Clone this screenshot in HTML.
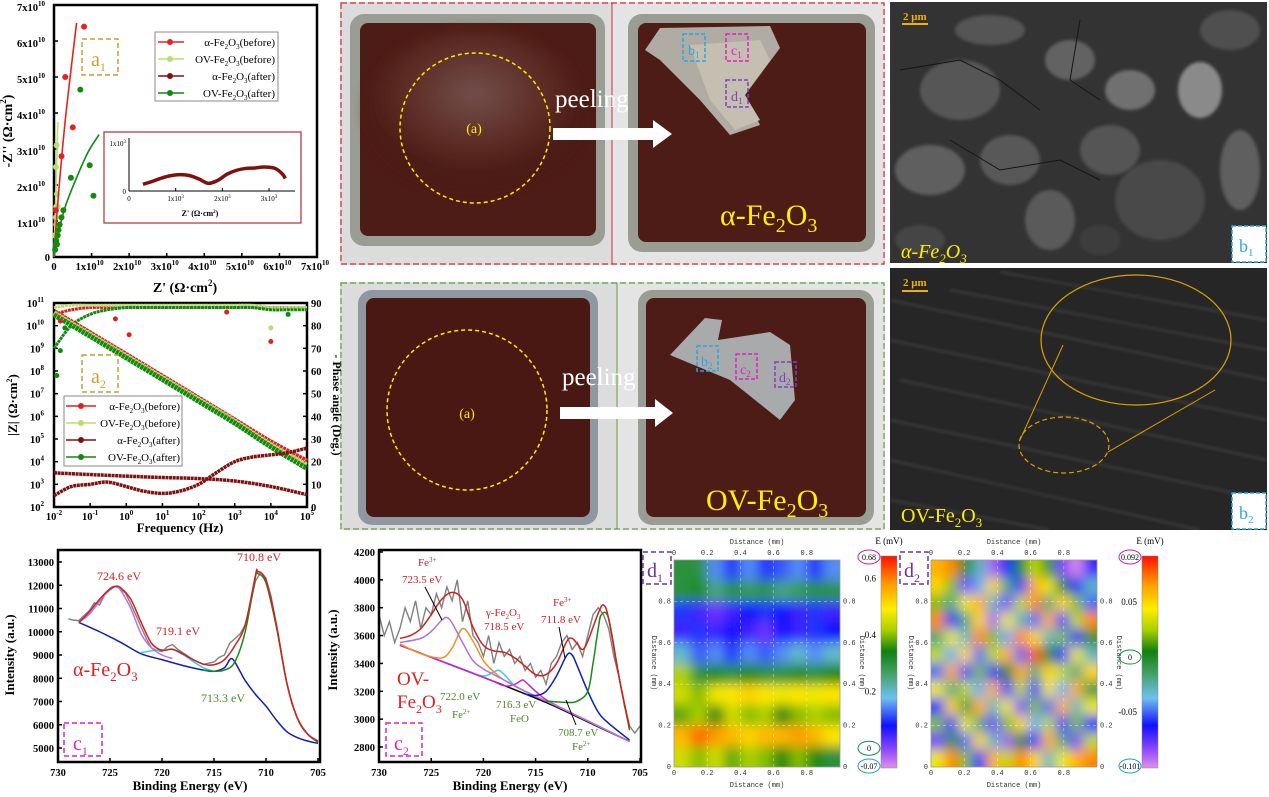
<!DOCTYPE html>
<html><head><meta charset="utf-8"><style>
html,body{margin:0;padding:0;background:#fff}
svg{display:block;font-family:"Liberation Serif",serif}
.tk{font-size:10.5px;font-weight:bold;fill:#000}
.sm{font-size:7px;fill:#333;font-family:"Liberation Mono",monospace}
</style></head><body>
<svg id="fig" width="1269" height="797" viewBox="0 0 1269 797" xmlns="http://www.w3.org/2000/svg">
<defs>
<filter id="blur5" x="-10%" y="-10%" width="120%" height="120%"><feGaussianBlur stdDeviation="6"/></filter>
<filter id="blur2"><feGaussianBlur stdDeviation="1.5"/></filter>
<filter id="blur6"><feGaussianBlur stdDeviation="6"/></filter>
<radialGradient id="gloss" cx="0.5" cy="0.4" r="0.5"><stop offset="0" stop-color="#8a7270"/><stop offset="0.6" stop-color="#6a3a32"/><stop offset="1" stop-color="#4a1a14"/></radialGradient>
<clipPath id="cpD1"><rect x="674" y="560" width="166" height="207"/></clipPath>
<clipPath id="cpD2"><rect x="931" y="560" width="166" height="207"/></clipPath>
<clipPath id="cpS1"><rect x="890" y="2" width="377" height="261"/></clipPath>
<clipPath id="cpS2"><rect x="890" y="268" width="377" height="262"/></clipPath>
<linearGradient id="cbar" x1="0" y1="1" x2="0" y2="0">
<stop offset="0" stop-color="#e090e8"/><stop offset="0.1" stop-color="#8040ff"/><stop offset="0.2" stop-color="#1010ff"/><stop offset="0.33" stop-color="#70c0f0"/><stop offset="0.45" stop-color="#40a060"/><stop offset="0.55" stop-color="#108010"/><stop offset="0.65" stop-color="#a8d000"/><stop offset="0.75" stop-color="#ffee00"/><stop offset="0.87" stop-color="#ff9900"/><stop offset="1" stop-color="#ff1000"/></linearGradient>
</defs>

<!-- ============ Photos ============ -->
<g>
<rect x="340" y="2" width="545" height="263" fill="#dcdcdc"/>
<rect x="612" y="2" width="273" height="263" fill="#e4e4e4"/>
<rect x="350" y="14" width="255" height="232" rx="14" fill="#9a9d94"/>
<rect x="360" y="23" width="236" height="213" rx="8" fill="#4e1c16"/>
<ellipse cx="475" cy="110" rx="110" ry="80" fill="url(#gloss)" opacity="0.6" filter="url(#blur6)"/>
<rect x="628" y="14" width="247" height="238" rx="14" fill="#9a9d94"/>
<rect x="638" y="23" width="228" height="219" rx="8" fill="#4e1c16"/>
<path d="M645 50 L660 28 L770 26 L780 48 L745 95 L760 125 L730 135 L700 100 L660 60 Z" fill="#b0aca4"/>
<path d="M690 45 L760 40 L770 60 L745 95 L760 120 L735 130 L710 100Z" fill="#c4bfb0"/>
<circle cx="475" cy="128" r="75" fill="none" stroke="#ffee00" stroke-width="1.5" stroke-dasharray="4,3"/>
<text x="474" y="133" font-size="14" fill="#ffee00" text-anchor="middle">(a)</text>
<rect x="683" y="34" width="22" height="27" fill="none" stroke="#29a8e0" stroke-width="1.5" stroke-dasharray="4,2"/>
<text x="688" y="55" font-size="14" fill="#29a8e0">b<tspan font-size="9" dy="3">1</tspan></text>
<rect x="726" y="34" width="22" height="27" fill="none" stroke="#e020c0" stroke-width="1.5" stroke-dasharray="4,2"/>
<text x="731" y="55" font-size="14" fill="#e020c0">c<tspan font-size="9" dy="3">1</tspan></text>
<rect x="726" y="80" width="22" height="27" fill="none" stroke="#8040c0" stroke-width="1.5" stroke-dasharray="4,2"/>
<text x="731" y="101" font-size="14" fill="#8040c0">d<tspan font-size="9" dy="3">1</tspan></text>
<text x="720" y="225" font-size="30" fill="#ffee00">α-Fe<tspan font-size="20" dy="7">2</tspan><tspan dy="-7">O</tspan><tspan font-size="20" dy="7">3</tspan></text>
<rect x="341" y="3" width="543" height="261" fill="none" stroke="#d03030" stroke-width="1.2" stroke-dasharray="6,3"/>
<line x1="612" y1="3" x2="612" y2="264" stroke="#d03030" stroke-width="1"/>
<text x="555" y="107" font-size="25" fill="#fff">peeling</text>
<path d="M553 128 L653 128 L653 120 L672 134 L653 148 L653 140 L553 140Z" fill="#fff"/>
</g>
<g>
<rect x="340" y="282" width="545" height="248" fill="#dcdcdc"/>
<rect x="617" y="282" width="268" height="248" fill="#e4e4e4"/>
<rect x="358" y="290" width="240" height="235" rx="14" fill="#8f98a0"/>
<rect x="366" y="298" width="224" height="219" rx="8" fill="#4a1812"/>
<circle cx="467" cy="410" r="80" fill="none" stroke="#ffee00" stroke-width="1.5" stroke-dasharray="4,3"/>
<text x="467" y="418" font-size="14" fill="#ffee00" text-anchor="middle">(a)</text>
<rect x="638" y="290" width="236" height="235" rx="14" fill="#9a9d94"/>
<rect x="646" y="298" width="220" height="219" rx="8" fill="#4e1c16"/>
<path d="M670 355 L705 318 L722 320 L718 340 L770 332 L790 345 L795 400 L780 420 L730 380Z" fill="#a8aaac"/>
<rect x="697" y="346" width="21" height="25" fill="none" stroke="#29a8e0" stroke-width="1.5" stroke-dasharray="4,2"/>
<text x="701" y="366" font-size="14" fill="#29a8e0">b<tspan font-size="9" dy="3">2</tspan></text>
<rect x="736" y="354" width="21" height="25" fill="none" stroke="#e020c0" stroke-width="1.5" stroke-dasharray="4,2"/>
<text x="740" y="374" font-size="14" fill="#e020c0">c<tspan font-size="9" dy="3">2</tspan></text>
<rect x="775" y="362" width="21" height="25" fill="none" stroke="#8040c0" stroke-width="1.5" stroke-dasharray="4,2"/>
<text x="779" y="382" font-size="14" fill="#8040c0">d<tspan font-size="9" dy="3">2</tspan></text>
<text x="706" y="510" font-size="30" fill="#ffee00">OV-Fe<tspan font-size="20" dy="7">2</tspan><tspan dy="-7">O</tspan><tspan font-size="20" dy="7">3</tspan></text>
<rect x="341" y="283" width="543" height="246" fill="none" stroke="#60a040" stroke-width="1.2" stroke-dasharray="6,3"/>
<line x1="617" y1="283" x2="617" y2="529" stroke="#60a040" stroke-width="1"/>
<text x="562" y="385" font-size="25" fill="#fff">peeling</text>
<path d="M560 407 L655 407 L655 399 L673 413 L655 427 L655 419 L560 419Z" fill="#fff"/>
</g>

<!-- ============ SEM ============ -->
<g clip-path="url(#cpS1)">
<rect x="890" y="2" width="377" height="261" fill="#333"/>
<g filter="url(#blur2)">
<ellipse cx="960" cy="90" rx="40" ry="30" fill="#575757"/><ellipse cx="930" cy="170" rx="35" ry="25" fill="#5e5e5e"/>
<ellipse cx="1010" cy="160" rx="30" ry="25" fill="#585858"/><ellipse cx="1070" cy="60" rx="25" ry="20" fill="#626262"/>
<ellipse cx="1110" cy="150" rx="30" ry="25" fill="#555"/><ellipse cx="1200" cy="90" rx="22" ry="28" fill="#8a8a8a"/>
<ellipse cx="1160" cy="200" rx="45" ry="40" fill="#4a4a4a"/><ellipse cx="1240" cy="170" rx="20" ry="40" fill="#5e5e5e"/>
<ellipse cx="1050" cy="220" rx="25" ry="30" fill="#5a5a5a"/><ellipse cx="1130" cy="90" rx="25" ry="20" fill="#707070"/>
<ellipse cx="990" cy="30" rx="35" ry="15" fill="#555"/><ellipse cx="1230" cy="30" rx="30" ry="20" fill="#505050"/>
<ellipse cx="1100" cy="240" rx="20" ry="15" fill="#3e3e3e"/><ellipse cx="920" cy="240" rx="25" ry="15" fill="#444"/>
</g>
<g stroke="#151515" stroke-width="1" fill="none"><path d="M900 70 L960 60 L1000 80 L1040 110"/><path d="M950 140 L1000 170 L1060 160 L1100 180"/><path d="M1080 20 L1070 80 L1100 100"/></g>
<text x="903" y="20" font-size="11" font-weight="bold" fill="#f0b000">2 μm</text>
<rect x="902" y="23" width="26" height="2" fill="#f0b000"/>
<text x="901" y="258" font-size="20" fill="#ffee00" font-style="italic">α-Fe<tspan font-size="13" dy="5">2</tspan><tspan dy="-5">O</tspan><tspan font-size="13" dy="5">3</tspan></text>
<rect x="1232" y="226" width="34" height="36" fill="#fff" stroke="#29a8e0" stroke-width="1.5" stroke-dasharray="4,2"/>
<text x="1239" y="252" font-size="18" fill="#29a8e0">b<tspan font-size="11" dy="4">1</tspan></text>
</g>
<g clip-path="url(#cpS2)">
<rect x="890" y="268" width="377" height="262" fill="#262626"/>
<g stroke="#555" stroke-width="1.2" fill="none" filter="url(#blur2)" opacity="0.9">
<path d="M890 300 L1267 380"/><path d="M890 340 L1267 420"/><path d="M900 380 L1267 460"/><path d="M890 420 L1267 500"/>
<path d="M890 460 L1200 530"/><path d="M950 290 L1267 350"/><path d="M1000 272 L1267 320"/><path d="M890 500 L1050 530"/>
</g>
<ellipse cx="1136" cy="340" rx="95" ry="65" fill="none" stroke="#e0a000" stroke-width="1.2"/>
<ellipse cx="1064" cy="445" rx="45" ry="28" fill="none" stroke="#e0a000" stroke-width="1.2" stroke-dasharray="5,3"/>
<line x1="1020" y1="440" x2="1063" y2="345" stroke="#e0a000" stroke-width="1"/>
<line x1="1108" y1="452" x2="1215" y2="390" stroke="#e0a000" stroke-width="1"/>
<text x="903" y="286" font-size="11" font-weight="bold" fill="#f0b000">2 μm</text>
<rect x="902" y="290" width="26" height="2" fill="#f0b000"/>
<text x="901" y="522" font-size="20" fill="#ffee00">OV-Fe<tspan font-size="13" dy="5">2</tspan><tspan dy="-5">O</tspan><tspan font-size="13" dy="5">3</tspan></text>
<rect x="1232" y="493" width="34" height="36" fill="#fff" stroke="#29a8e0" stroke-width="1.5" stroke-dasharray="4,2"/>
<text x="1239" y="519" font-size="18" fill="#29a8e0">b<tspan font-size="11" dy="4">2</tspan></text>
</g>

<!-- chart layers -->
<g id="a1"></g>
<g id="a2"></g>
<g id="c1"></g>
<g id="c2"></g>
<g id="d1"></g>
<g id="d2"></g>
</svg>

<script>
// ---------- a1 Nyquist data (units 1e10) ----------
const a1AlphaBeforeX = [0.05,0.2,0.5,0.3,0.8];
const a1AlphaBeforeY = [1.3,2.8,3.6,5.0,6.4];
const a1AlphaBeforeFitX = [0,0.1,0.3,0.6];
const a1AlphaBeforeFitY = [0,1.5,3.8,6.5];
const a1OvBeforeX = [0.02,0.05,0.06,0.08,0.1,0.05,0.07,0.06];
const a1OvBeforeY = [0.6,1.1,1.4,1.75,1.4,2.5,3.1,0.9];
const a1OvBeforeFitX = [0,0.05,0.1];
const a1OvBeforeFitY = [0,1.8,3.75];
const a1OvAfterX = [0.03,0.06,0.1,0.12,0.15,0.2,0.25,0.45,0.7,0.95,1.05,0.08];
const a1OvAfterY = [0.2,0.45,0.6,0.75,0.9,1.1,1.3,2.2,4.65,2.55,1.7,0.35];
const a1OvAfterFitX = [0,0.1,0.3,0.6,0.9,1.2];
const a1OvAfterFitY = [0,0.6,1.4,2.2,2.9,3.4];
const a1XTicks = [0,1,2,3,4,5,6,7];
const a1YTicks = [0,1,2,3,4,5,6,7];
const insetX = [0.3,0.5,0.7,0.9,1.1,1.3,1.5,1.7,1.9,2.1,2.3,2.5,2.7,2.9,3.1,3.2,3.3,3.35];
const insetY = [0.14,0.2,0.27,0.32,0.34,0.32,0.25,0.16,0.22,0.35,0.43,0.47,0.48,0.5,0.48,0.43,0.34,0.26];

// ---------- a2 Bode data ----------
const freqs = [0.01,0.1,1,10,100,1000,10000,100000];
const zAlphaBefore = [4e10,4.5e9,5e8,5.5e7,6e6,6.5e5,7e4,1e4];
const zOvBefore = [3.6e10,4e9,4.5e8,5e7,5.5e6,6e5,5.5e4,7e3];
const zOvAfter = [3e10,3.4e9,3.8e8,4.2e7,4.6e6,5e5,4.5e4,5e3];
const zAlphaAfter = [3200,2700,2300,2000,1800,1400,800,350];
const phFreqs = [0.01,0.03,0.1,0.3,1,3,10,30,100,300,1000,3000,10000,30000,100000];
const phAlphaAfter = [5,9,10,11,9,7,6,7,10,15,20,22,23,24,26];
const phAlphaBefore = [85,87,88,88,88,88,88,88,88,88,88,88,88,88,88];
const phOvBefore = [88,89,89,89,89,89,89,89,89,89,89,89,88,88,88];
const phOvAfter = [70,80,85,87,88,88,88,88,88,88,88,88,87,87,87];
const phOutlierF = [0.015,0.5,1.2,10000,10000,0.012,0.015,0.02,600,30000];
const phOutlierP = [82,83,76,73,79,58,69,79,86,85];
const phOutlierC = ['#e02020','#e02020','#e02020','#e02020','#b8e070','#108a10','#108a10','#108a10','#e02020','#108a10'];
const a2ZTicks = [2,3,4,5,6,7,8,9,10,11];
const a2PTicks = [0,10,20,30,40,50,60,70,80,90];
const a2FTicks = [-2,-1,0,1,2,3,4,5];

// ---------- c1 XPS ----------
const c1RawE = [729,728.5,728,727.5,727,726.5,726,725.5,725,724.5,724,723.5,723,722.5,722,721.5,721,720.5,720,719.5,719,718.5,718,717.5,717,716.5,716,715.5,715,714.5,714,713.5,713,712.5,712,711.5,711,710.5,710,709.5,709,708.5,708,707.5,707,706.5,706,705.5,705];
const c1Raw = [10550,10500,10480,10700,10900,11250,11150,11600,11800,11950,11850,11650,11200,10700,10200,9700,9300,9200,9150,9350,9450,9250,9100,8950,8800,8700,8600,8650,8700,8900,9000,9500,9700,9900,10300,11200,12200,12550,12300,11500,10300,9000,7800,6900,6300,5900,5600,5400,5250];
const c1EnvE = [728,727,726,725,724.5,724,723,722,721,720,719,718,717,716,715,714,713,712,711,710.8,710,709,708,707,706,705];
const c1Env = [10400,10850,11400,11850,11950,11900,11400,10400,9500,9200,9250,9050,8800,8600,8580,8800,9400,10300,12450,12600,12200,10300,7800,6300,5600,5300];
const c1GreenE = [716,715,714,713,712,711,710.8,710,709,708,707,706,705];
const c1Green = [8350,8300,8350,8700,10000,12400,12500,12100,10200,7800,6300,5600,5250];
const c1BlueE = [728,726,724,722,720,718,716,715,714,713.3,712.5,712,711,710,709,708,707,706,705];
const c1Blue = [10400,10000,9550,9050,8800,8550,8350,8300,8450,8850,8300,7900,7300,6800,6200,5700,5450,5300,5200];
const c1CyanE = [722,721,720,719,718,717,716,715];
const c1Cyan = [9100,9180,9220,9230,9020,8720,8450,8300];
const c1PurpleE = [728,727,726,725,724.5,724,723,722,721,720,719];
const c1Purple = [10400,10750,11300,11850,11950,11800,11000,9900,9300,9000,8850];
const c1XTicks = [730,725,720,715,710,705];
const c1YTicks = [5000,6000,7000,8000,9000,10000,11000,12000,13000];

// ---------- c2 XPS ----------
const c2RawE = [730,729.5,729,728.5,728,727.5,727,726.5,726,725.5,725,724.5,724,723.5,723,722.5,722,721.5,721,720.5,720,719.5,719,718.5,718,717.5,717,716.5,716,715.5,715,714.5,714,713.5,713,712.5,712,711.5,711,710.5,710,709.5,709,708.5,708,707.5,707,706.5,706,705.5,705];
const c2Raw = [3750,3600,3700,3550,3650,3800,3700,3850,3650,3800,3750,3900,3800,3950,3850,4000,3700,3850,3600,3550,3450,3600,3400,3550,3450,3500,3400,3450,3350,3400,3300,3350,3250,3400,3450,3550,3600,3500,3550,3450,3600,3750,3800,3750,3650,3450,3300,3100,2950,2900,2950];
const c2EnvE = [728,727,726,725,724,723,722,721,720,719,718,717,716,715,714,713,712,711.5,711,710.5,710,709,708.5,708,707,706];
const c2Env = [3580,3600,3650,3750,3860,3910,3860,3660,3530,3490,3480,3440,3380,3320,3320,3400,3560,3580,3540,3500,3560,3760,3820,3720,3300,2940];
const c2BgE = [728,720,714,710,706];
const c2Bg = [3530,3300,3120,2980,2840];
const c2PurE = [728,726,725,724,723.5,723,722,721,720,719,718,716,712,706];
const c2Pur = [3550,3580,3630,3710,3730,3690,3550,3420,3360,3320,3280,3200,3060,2840];
const c2OrE = [728,726,724,723,722,721,720,719,718,716,712,706];
const c2Or = [3540,3470,3440,3510,3650,3560,3420,3340,3280,3200,3060,2840];
const c2CyE = [728,722,720,719,718.5,718,717,716,714,712,706];
const c2Cy = [3530,3360,3310,3340,3350,3320,3240,3200,3130,3060,2840];
const c2MaE = [728,720,718,717,716.3,716,715,714,712,706];
const c2Ma = [3530,3300,3240,3250,3280,3270,3200,3140,3060,2840];
const c2BlE = [716,715,714,713,712,711.5,711,710,709,708,706];
const c2Bl = [3180,3170,3200,3310,3460,3460,3380,3200,3050,2970,2850];
const c2GrE = [714,712,711,710,709.5,709,708.7,708,707,706];
const c2Gr = [3130,3120,3130,3200,3400,3650,3750,3720,3300,2920];
const c2XTicks = [730,725,720,715,710,705];
const c2YTicks = [2800,3000,3200,3400,3600,3800,4000,4200];

// ---------- d maps ----------
const d1Grid = [
[0.30,0.30,0.15,0.10,0.15,0.10,0.12,0.15,0.10,0.15],
[0.30,0.32,0.25,0.30,0.28,0.30,0.25,0.28,0.30,0.30],
[0.10,0.05,0.02,0.05,0.08,0.10,0.08,0.05,0.10,0.05],
[0.05,0.10,0.05,0.08,0.05,0.02,0.08,0.05,0.10,0.08],
[0.20,0.12,0.15,0.10,0.15,0.12,0.15,0.20,0.15,0.20],
[0.42,0.30,0.32,0.30,0.35,0.30,0.30,0.32,0.30,0.35],
[0.45,0.40,0.48,0.50,0.52,0.50,0.48,0.50,0.48,0.50],
[0.38,0.42,0.35,0.45,0.40,0.42,0.35,0.40,0.42,0.40],
[0.55,0.62,0.58,0.55,0.52,0.55,0.55,0.58,0.55,0.50],
[0.45,0.40,0.45,0.38,0.42,0.40,0.35,0.40,0.35,0.30]];
const d1Range = [-0.07,0.68];
const d2Grid = [
[0.06,0.07,0.00,-0.03,-0.09,-0.06,0.00,0.03,0.01,-0.08,-0.10,-0.07],
[0.05,0.02,-0.08,-0.04,0.05,-0.02,-0.07,0.06,0.04,0.00,-0.06,-0.03],
[0.02,-0.02,0.04,0.06,-0.03,-0.08,0.03,0.07,-0.02,0.05,0.02,-0.05],
[0.07,-0.06,-0.02,0.05,-0.09,0.04,-0.03,-0.05,0.06,-0.07,0.03,0.07],
[-0.02,0.04,-0.03,0.07,0.02,-0.04,0.07,0.05,-0.03,0.02,-0.06,0.01],
[0.03,-0.04,0.05,-0.05,0.03,0.06,-0.05,0.08,0.00,-0.06,0.04,-0.03],
[-0.05,0.06,-0.07,0.02,-0.06,0.00,0.06,-0.02,0.05,0.03,-0.02,0.05],
[0.04,-0.02,0.03,-0.04,0.06,-0.07,0.03,-0.06,0.04,-0.04,0.06,-0.01],
[-0.06,0.05,-0.01,0.06,-0.03,0.04,-0.08,0.02,-0.05,0.06,-0.03,0.04],
[0.02,-0.07,0.04,-0.02,-0.08,0.02,0.05,-0.04,0.03,-0.07,0.02,-0.06],
[-0.08,0.01,-0.05,0.05,-0.03,-0.09,0.00,-0.07,0.06,-0.02,-0.08,0.03],
[0.04,0.07,0.02,-0.06,0.06,0.03,0.07,0.05,-0.03,0.04,0.06,0.07]];
const d2Range = [-0.101,0.092];
const dDistTicks = [0,0.2,0.4,0.6,0.8];
const d1BarTicks = [0.2,0.4,0.6];
const d2BarTicks = [-0.05,0,0.05];

const NS = 'http://www.w3.org/2000/svg';
function el(parent, tag, attrs, txt){
  const e = document.createElementNS(NS, tag);
  for (const k in attrs) e.setAttribute(k, attrs[k]);
  if (txt !== undefined) e.textContent = txt;
  parent.appendChild(e);
  return e;
}
function smoothPath(pts){
  if (pts.length < 3) return 'M' + pts.map(p=>p.join(',')).join('L');
  let d = 'M' + pts[0][0] + ',' + pts[0][1];
  for (let i=0;i<pts.length-1;i++){
    const p0 = pts[i-1]||pts[i], p1=pts[i], p2=pts[i+1], p3=pts[i+2]||p2;
    const c1x=p1[0]+(p2[0]-p0[0])/6, c1y=p1[1]+(p2[1]-p0[1])/6;
    const c2x=p2[0]-(p3[0]-p1[0])/6, c2y=p2[1]-(p3[1]-p1[1])/6;
    d += 'C'+c1x+','+c1y+' '+c2x+','+c2y+' '+p2[0]+','+p2[1];
  }
  return d;
}
function sci(parent, x, y, mant, exp, anchor, name){
  const t = el(parent,'text',{x:x,y:y,'class':'tk','text-anchor':anchor});
  
  
  el(t,'tspan',{},mant);
  el(t,'tspan',{'font-size':'7',dy:'-5'},exp);
  return t;
}

// ===== a1 =====
(function(){
  const g = document.getElementById('a1');
  const X0=54,X1=317,Y0=257,Y1=5;
  const sx = v => X0 + v*(X1-X0)/7;
  const sy = v => Y0 - v*(Y0-Y1)/7;
  const fr = el(g,'rect',{x:X0,y:Y1,width:263,height:252,fill:'none',stroke:'#000','stroke-width':2.5});
  
  
  a1XTicks.forEach(v=>{
    el(g,'line',{x1:sx(v),y1:Y0,x2:sx(v),y2:Y0-4,stroke:'#000','stroke-width':1.5});
    if (v===0){ const t=el(g,'text',{x:sx(v),y:Y0+13,'class':'tk','text-anchor':'middle'},'0');   }
    else sci(g, sx(v)-2, Y0+13, v+'x10', '10', 'middle', 'x-tick-label');
  });
  a1YTicks.forEach(v=>{
    el(g,'line',{x1:X0,y1:sy(v),x2:X0+4,y2:sy(v),stroke:'#000','stroke-width':1.5});
    if (v===0){ const t=el(g,'text',{x:X0-4,y:sy(v)+4,'class':'tk','text-anchor':'end'},'0');   }
    else sci(g, X0-9, sy(v)+6, v+'x10', '10', 'end', 'y-tick-label');
  });
  const xt = el(g,'text',{x:185,y:292,'font-size':'14','font-weight':'bold','text-anchor':'middle'},"Z' (Ω·cm");
   
  el(xt,'tspan',{'font-size':'9',dy:'-6'},'2'); el(xt,'tspan',{dy:'6'},')');
  const yt = el(g,'text',{x:0,y:0,'font-size':'14','font-weight':'bold','text-anchor':'middle',transform:'translate(12,131) rotate(-90)'},"-Z'' (Ω·cm");
   
  el(yt,'tspan',{'font-size':'9',dy:'-6'},'2'); el(yt,'tspan',{dy:'6'},')');
  function fit(xs,ys,col,name){
    const p = el(g,'path',{d:smoothPath(xs.map((v,i)=>[sx(v),sy(ys[i])])),fill:'none',stroke:col,'stroke-width':1.6});
     
  }
  function pts(xs,ys,col,name){
    xs.forEach((v,i)=>{ const c=el(g,'circle',{cx:sx(v),cy:sy(ys[i]),r:3,fill:col});
        });
  }
  fit(a1OvBeforeFitX,a1OvBeforeFitY,'#b8e070','ov-before-fit');
  pts(a1OvBeforeX,a1OvBeforeY,'#b8e070','ov-before-point');
  fit(a1AlphaBeforeFitX,a1AlphaBeforeFitY,'#e82020','alpha-before-fit');
  pts(a1AlphaBeforeX,a1AlphaBeforeY,'#e82020','alpha-before-point');
  fit(a1OvAfterFitX,a1OvAfterFitY,'#108a10','ov-after-fit');
  pts(a1OvAfterX,a1OvAfterY,'#108a10','ov-after-point');
  const lb = el(g,'rect',{x:82,y:39,width:36,height:36,fill:'none',stroke:'#c8a030','stroke-width':1.5,'stroke-dasharray':'5,3'});
   
  const lt = el(g,'text',{x:91,y:66,'font-size':'20',fill:'#c8a030'},'a'); el(lt,'tspan',{'font-size':'12',dy:'5'},'1');
  const lg = el(g,'rect',{x:155,y:32,width:123,height:69,fill:'#fff',stroke:'#888','stroke-width':1});
   
  const legC=['#e82020','#b8e070','#801010','#108a10'];
  const legT=[['α-Fe','(before)'],['OV-Fe','(before)'],['α-Fe','(after)'],['OV-Fe','(after)']];
  legC.forEach((c,i)=>{
    const yy=42+i*17;
    el(g,'line',{x1:158,y1:yy,x2:184,y2:yy,stroke:c,'stroke-width':1.6});
    el(g,'circle',{cx:170,cy:yy,r:3,fill:c});
    const t=el(g,'text',{x:275,y:yy+4,'font-size':'11','text-anchor':'end'},legT[i][0]);
     
    el(t,'tspan',{'font-size':'7',dy:'3'},'2'); el(t,'tspan',{dy:'-3'},'O'); el(t,'tspan',{'font-size':'7',dy:'3'},'3'); el(t,'tspan',{dy:'-3'},legT[i][1]);
  });
  const ib = el(g,'rect',{x:104,y:132,width:197,height:91,fill:'#fff',stroke:'#b03030','stroke-width':1.2});
   
  const iX0=129,iX1=269,iY0=191,iY1=143;
  const ix=v=>iX0+v*(iX1-iX0)/3, iy=v=>iY0-v*(iY0-iY1);
  el(g,'line',{x1:iX0,y1:iY0,x2:iX0,y2:138,stroke:'#000','stroke-width':1});
  el(g,'line',{x1:iX0,y1:iY0,x2:295,y2:iY0,stroke:'#000','stroke-width':1});
  el(g,'text',{x:iX0-3,y:iY0+3,'font-size':'7','text-anchor':'end'},'0');
  const i1=el(g,'text',{x:iX0-3,y:iY1+3,'font-size':'7','text-anchor':'end'},'1x10'); el(i1,'tspan',{'font-size':'5',dy:'-3'},'3');
  [0,1,2,3].forEach(v=>{
    el(g,'line',{x1:ix(v),y1:iY0,x2:ix(v),y2:iY0-3,stroke:'#000'});
    const t=el(g,'text',{x:ix(v),y:iY0+10,'font-size':'7','text-anchor':'middle'},v===0?'0':v+'x10');
    if(v) el(t,'tspan',{'font-size':'5',dy:'-3'},'3');
  });
  const it=el(g,'text',{x:200,y:216,'font-size':'8','font-weight':'bold','text-anchor':'middle'},"Z' (Ω·cm"); el(it,'tspan',{'font-size':'5',dy:'-3'},'2'); el(it,'tspan',{dy:'3'},')');
  const ip = el(g,'path',{d:smoothPath(insetX.map((v,i)=>[ix(v),iy(insetY[i])])),fill:'none',stroke:'#801010','stroke-width':3.5});
   
})();

// ===== a2 =====
(function(){
  const g = document.getElementById('a2');
  const X0=54,X1=307,Y0=507,Y1=303;
  const sx = f => X0 + (Math.log10(f)+2)/7*(X1-X0);
  const sz = z => Y0 - (Math.log10(z)-2)/9*(Y0-Y1);
  const sp = p => Y0 - p/90*(Y0-Y1);
  const fr = el(g,'rect',{x:X0,y:Y1,width:X1-X0,height:Y0-Y1,fill:'none',stroke:'#000','stroke-width':2.5});
   
  a2FTicks.forEach(e=>{ const x=X0+(e+2)/7*(X1-X0);
    el(g,'line',{x1:x,y1:Y0,x2:x,y2:Y0-4,stroke:'#000','stroke-width':1.5});
    sci(g,x,Y0+13,'10',String(e),'middle','x-tick-label'); });
  a2ZTicks.forEach(e=>{ const y=Y0-(e-2)/9*(Y0-Y1);
    el(g,'line',{x1:X0,y1:y,x2:X0+4,y2:y,stroke:'#000','stroke-width':1.5});
    sci(g,X0-10,y+4,'10',String(e),'end','y-tick-label'); });
  a2PTicks.forEach(p=>{ const y=sp(p);
    el(g,'line',{x1:X1,y1:y,x2:X1-4,y2:y,stroke:'#000','stroke-width':1.5});
    const t=el(g,'text',{x:X1+4,y:y+4,'class':'tk'},String(p));
      });
  const xt=el(g,'text',{x:180,y:532,'font-size':'13','font-weight':'bold','text-anchor':'middle'},'Frequency (Hz)');
   
  const yt=el(g,'text',{x:0,y:0,'font-size':'13','font-weight':'bold','text-anchor':'middle',transform:'translate(17,405) rotate(-90)'},'|Z| (Ω·cm');
   
  el(yt,'tspan',{'font-size':'8',dy:'-5'},'2'); el(yt,'tspan',{dy:'5'},')');
  const rt=el(g,'text',{x:0,y:0,'font-size':'12','font-weight':'bold','text-anchor':'middle',transform:'translate(333,405) rotate(90)'},'- Phase angle (Deg.)');
   
  function line(fs,vs,scale,col,w,name){
    const p=el(g,'path',{d:smoothPath(fs.map((f,i)=>[sx(f),scale(vs[i])])),fill:'none',stroke:col,'stroke-width':w,'stroke-dasharray':'3,0.6'});
     
  }
  line(phFreqs,phAlphaBefore,sp,'#e02020',3,'phase-alpha-before');
  line(phFreqs,phOvBefore,sp,'#b8e070',3,'phase-ov-before');
  line(phFreqs,phOvAfter,sp,'#108a10',3,'phase-ov-after');
  line(freqs,zAlphaBefore,sz,'#e02020',6,'modulus-alpha-before');
  line(freqs,zOvBefore,sz,'#b8e070',5,'modulus-ov-before');
  line(freqs,zOvAfter,sz,'#108a10',5,'modulus-ov-after');
  line(freqs,zAlphaAfter,sz,'#801010',3.5,'modulus-alpha-after');
  line(phFreqs,phAlphaAfter,sp,'#801010',3.5,'phase-alpha-after');
  phOutlierF.forEach((f,i)=>{ const c=el(g,'circle',{cx:sx(f),cy:sp(phOutlierP[i]),r:2.5,fill:phOutlierC[i]});
      });
  const lb=el(g,'rect',{x:82,y:355,width:36,height:37,fill:'none',stroke:'#c8a030','stroke-width':1.5,'stroke-dasharray':'5,3'});
   
  const lt=el(g,'text',{x:91,y:383,'font-size':'20',fill:'#c8a030'},'a'); el(lt,'tspan',{'font-size':'12',dy:'5'},'2');
  const lg=el(g,'rect',{x:64,y:396,width:118,height:70,fill:'#fff',stroke:'#888'});
   
  const legC=['#e02020','#b8e070','#801010','#108a10'];
  const legT=[['α-Fe','(before)'],['OV-Fe','(before)'],['α-Fe','(after)'],['OV-Fe','(after)']];
  legC.forEach((c,i)=>{ const yy=406+i*17;
    el(g,'line',{x1:66,y1:yy,x2:96,y2:yy,stroke:c,'stroke-width':1.6});
    el(g,'circle',{cx:81,cy:yy,r:3,fill:c});
    const t=el(g,'text',{x:180,y:yy+4,'font-size':'11','text-anchor':'end'},legT[i][0]);
     
    el(t,'tspan',{'font-size':'7',dy:'3'},'2'); el(t,'tspan',{dy:'-3'},'O'); el(t,'tspan',{'font-size':'7',dy:'3'},'3'); el(t,'tspan',{dy:'-3'},legT[i][1]);
  });
})();

// ===== XPS helper =====
function xps(id, X0,X1,Y0,Y1, eMax,eMin, iMin,iMax, xTicks,yTicks, series){
  const g=document.getElementById(id);
  const sx=e=>X0+(eMax-e)/(eMax-eMin)*(X1-X0);
  const sy=v=>Y0-(v-iMin)/(iMax-iMin)*(Y0-Y1);
  series.forEach(s=>{
    const p=el(g,'path',{d:s.raw?'M'+s.e.map((e,i)=>sx(e)+','+sy(s.v[i])).join('L'):smoothPath(s.e.map((e,i)=>[sx(e),sy(s.v[i])])),fill:'none',stroke:s.c,'stroke-width':s.w||1.5});
     
  });
  return {g,sx,sy};
}
function xpsFrame(g,fx0,fy0,fx1,fy1,sx,sy,xTicks,yTicks){
  const fr=el(g,'rect',{x:fx0,y:fy0,width:fx1-fx0,height:fy1-fy0,fill:'none',stroke:'#000','stroke-width':2.5});
   
  xTicks.forEach(v=>{ el(g,'line',{x1:sx(v),y1:fy1,x2:sx(v),y2:fy1-4,stroke:'#000','stroke-width':1.5});
    const t=el(g,'text',{x:sx(v),y:fy1+14,'class':'tk','text-anchor':'middle'},String(v));
      });
  yTicks.forEach(v=>{ el(g,'line',{x1:fx0,y1:sy(v),x2:fx0+4,y2:sy(v),stroke:'#000','stroke-width':1.5});
    const t=el(g,'text',{x:fx0-4,y:sy(v)+4,'class':'tk','text-anchor':'end'},String(v));
      });
}
(function(){
  const r=xps('c1',58,318,748,562,730,705,5000,13000,c1XTicks,c1YTicks,[
    {e:c1RawE,v:c1Raw,c:'#808080',raw:true,w:1.4,n:'raw-spectrum'},
    {e:c1BlueE,v:c1Blue,c:'#1020b0',n:'fit-713-3'},
    {e:c1CyanE,v:c1Cyan,c:'#30d0e0',n:'fit-719-1'},
    {e:c1PurpleE,v:c1Purple,c:'#c070e0',n:'fit-724-6'},
    {e:c1GreenE,v:c1Green,c:'#1a8a1a',n:'fit-710-8'},
    {e:c1EnvE,v:c1Env,c:'#d02020',n:'envelope'}]);
  const g=r.g;
  xpsFrame(g,58,550,320,762,r.sx,r.sy,c1XTicks,c1YTicks);
  const add=(x,y,s,c,txt,name)=>{const t=el(g,'text',{x:x,y:y,'font-size':s,fill:c},txt);   return t;};
  add(97,580,'12','#d02020','724.6 eV','peak-label');
  add(156,635,'12','#d02020','719.1 eV','peak-label');
  add(237,561,'12','#d02020','710.8 eV','peak-label');
  add(201,702,'12','#4a8a2a','713.3 eV','peak-label');
  const m=add(73,676,'20','#e02020','α-Fe','sample-label'); el(m,'tspan',{'font-size':'13',dy:'5'},'2'); el(m,'tspan',{dy:'-5'},'O'); el(m,'tspan',{'font-size':'13',dy:'5'},'3');
  el(g,'rect',{x:64,y:723,width:38,height:33,fill:'none',stroke:'#e020c0','stroke-width':1.5,'stroke-dasharray':'5,3'});
  const c=add(73,750,'20','#e020c0','c','panel-label-c1'); el(c,'tspan',{'font-size':'12',dy:'5'},'1');
  const xt=add(190,790,'13','#000','Binding Energy (eV)','x-axis-title'); xt.setAttribute('text-anchor','middle'); xt.setAttribute('font-weight','bold');
  const yt=el(g,'text',{x:0,y:0,'font-size':'13','font-weight':'bold','text-anchor':'middle',transform:'translate(14,655) rotate(-90)'},'Intensity (a.u.)');
   
})();
(function(){
  const r=xps('c2',379,640,747,552,730,705,2800,4200,c2XTicks,c2YTicks,[
    {e:c2RawE,v:c2Raw,c:'#808080',raw:true,w:1.4,n:'raw-spectrum'},
    {e:c2BgE,v:c2Bg,c:'#000',n:'background'},
    {e:c2CyE,v:c2Cy,c:'#30d0e0',n:'fit-718-5'},
    {e:c2MaE,v:c2Ma,c:'#d020d0',n:'fit-716-3'},
    {e:c2OrE,v:c2Or,c:'#f09020',n:'fit-722-0'},
    {e:c2PurE,v:c2Pur,c:'#b070e0',n:'fit-723-5'},
    {e:c2BlE,v:c2Bl,c:'#1020b0',n:'fit-711-8'},
    {e:c2GrE,v:c2Gr,c:'#1a8a1a',n:'fit-708-7'},
    {e:c2EnvE,v:c2Env,c:'#d02020',n:'envelope'}]);
  const g=r.g;
  xpsFrame(g,379,550,641,762,r.sx,r.sy,c2XTicks,c2YTicks);
  const add=(x,y,s,c,txt,name)=>{const t=el(g,'text',{x:x,y:y,'font-size':s,fill:c},txt);   return t;};
  const f1=add(418,566,'11','#d02020','Fe','peak-label'); el(f1,'tspan',{'font-size':'7',dy:'-4'},'3+');
  add(402,583,'11','#d02020','723.5 eV','peak-label');
  const g1=add(486,616,'11','#d02020','γ-Fe','peak-label'); el(g1,'tspan',{'font-size':'7',dy:'3'},'2'); el(g1,'tspan',{dy:'-3'},'O'); el(g1,'tspan',{'font-size':'7',dy:'3'},'3');
  add(484,630,'11','#d02020','718.5 eV','peak-label');
  const f2=add(553,606,'11','#d02020','Fe','peak-label'); el(f2,'tspan',{'font-size':'7',dy:'-4'},'3+');
  add(541,623,'11','#d02020','711.8 eV','peak-label');
  add(440,700,'11','#4a8a2a','722.0 eV','peak-label');
  const f3=add(452,718,'11','#4a8a2a','Fe','peak-label'); el(f3,'tspan',{'font-size':'7',dy:'-4'},'2+');
  add(496,708,'11','#4a8a2a','716.3 eV','peak-label');
  add(510,722,'11','#4a8a2a','FeO','peak-label');
  add(558,736,'11','#4a8a2a','708.7 eV','peak-label');
  const f4=add(572,750,'11','#4a8a2a','Fe','peak-label'); el(f4,'tspan',{'font-size':'7',dy:'-4'},'2+');
  add(397,685,'19','#e02020','OV-','sample-label');
  const m2=add(397,708,'19','#e02020','Fe','sample-label'); el(m2,'tspan',{'font-size':'12',dy:'5'},'2'); el(m2,'tspan',{dy:'-5'},'O'); el(m2,'tspan',{'font-size':'12',dy:'5'},'3');
  el(g,'line',{x1:425,y1:587,x2:442,y2:620,stroke:'#000'});
  el(g,'line',{x1:559,y1:627,x2:565,y2:658,stroke:'#000'});
  el(g,'line',{x1:566,y1:700,x2:576,y2:725,stroke:'#000'});
  el(g,'rect',{x:386,y:723,width:36,height:33,fill:'none',stroke:'#e020c0','stroke-width':1.5,'stroke-dasharray':'5,3'});
  const c=add(394,750,'20','#e020c0','c','panel-label-c2'); el(c,'tspan',{'font-size':'12',dy:'5'},'2');
  const xt=add(510,790,'13','#000','Binding Energy (eV)','x-axis-title'); xt.setAttribute('text-anchor','middle'); xt.setAttribute('font-weight','bold');
  const yt=el(g,'text',{x:0,y:0,'font-size':'13','font-weight':'bold','text-anchor':'middle',transform:'translate(337,650) rotate(-90)'},'Intensity (a.u.)');
   
})();

// ===== d maps =====
const cmapStops=[[0,[224,144,232]],[0.1,[128,64,255]],[0.2,[16,16,255]],[0.33,[112,192,240]],[0.45,[64,160,96]],[0.55,[16,128,16]],[0.65,[168,208,0]],[0.75,[255,238,0]],[0.87,[255,153,0]],[1,[255,16,0]]];
function cmap(t){ t=Math.max(0,Math.min(1,t));
  for(let i=0;i<cmapStops.length-1;i++){ const a=cmapStops[i],b=cmapStops[i+1];
    if(t<=b[0]){ const f=(t-a[0])/(b[0]-a[0]); const c=a[1].map((v,k)=>Math.round(v+(b[1][k]-v)*f)); return 'rgb('+c.join(',')+')'; } }
  return 'rgb(255,16,0)';
}
function dmap(id, X0, cbX, grid, range, barTicks, labelTxt, topTxt, botTxt){
  const g=document.getElementById(id);
  const Y0=767,Y1=560,W=166,H=Y0-Y1;
  const rows=grid.length, cols=grid[0].length;
  const cw=W/cols, ch=H/rows;
  const cl=el(g,'g',{'clip-path':'url(#cpD'+id.slice(1)+')'});
  const bl=el(cl,'g',{filter:'url(#blur5)'});
  grid.forEach((row,r)=>row.forEach((v,c)=>{
    const x0=X0+c*cw-(c===0?14:0), y0=Y1+r*ch-(r===0?14:0);
    const w=cw+(c===0?14:0)+(c===cols-1?14:0)+0.5, h=ch+(r===0?14:0)+(r===rows-1?14:0)+0.5;
    const cell=el(bl,'rect',{x:x0,y:y0,width:w,height:h,fill:cmap((v-range[0])/(range[1]-range[0]))});
    
    
  }));
  dDistTicks.forEach(v=>{ if(!v) return;
    el(g,'line',{x1:X0+v*W,y1:Y1,x2:X0+v*W,y2:Y0,stroke:'#fff','stroke-width':0.6,'stroke-dasharray':'3,3',opacity:0.6});
    el(g,'line',{x1:X0,y1:Y0-v*H,x2:X0+W,y2:Y0-v*H,stroke:'#fff','stroke-width':0.6,'stroke-dasharray':'3,3',opacity:0.6}); });
  el(g,'rect',{x:X0,y:Y1,width:W,height:H,fill:'none',stroke:'#999','stroke-width':0.8});
  dDistTicks.forEach(v=>{
    el(g,'text',{x:X0+v*W,y:Y0+8,'class':'sm','text-anchor':'middle','font-size':'5'},String(v));
    el(g,'text',{x:X0+v*W,y:Y1-5,'class':'sm','text-anchor':'middle','font-size':'5'},String(v));
    el(g,'text',{x:X0-3,y:Y0-v*H+2,'class':'sm','text-anchor':'end','font-size':'5'},String(v));
    el(g,'text',{x:X0+W+3,y:Y0-v*H+2,'class':'sm','font-size':'5'},String(v));
  });
  const ax=[el(g,'text',{x:X0+W/2,y:Y0+20,'class':'sm','text-anchor':'middle','font-size':'8'},'Distance (mm)'),
   el(g,'text',{x:X0+W/2,y:Y1-16,'class':'sm','text-anchor':'middle','font-size':'8'},'Distance (mm)'),
   el(g,'text',{x:0,y:0,'class':'sm','text-anchor':'middle','font-size':'8',transform:'translate('+(X0-22)+',663) rotate(90)'},'Distance (mm)'),
   el(g,'text',{x:0,y:0,'class':'sm','text-anchor':'middle','font-size':'8',transform:'translate('+(X0+W+20)+',663) rotate(90)'},'Distance (mm)')];
  ax.forEach(a=>{   });
  const cb=el(g,'rect',{x:cbX,y:556,width:16,height:212,fill:'url(#cbar)',stroke:'#888','stroke-width':0.5});
   
  const cy=v=>768-(v-range[0])/(range[1]-range[0])*212;
  barTicks.forEach(v=>{ if(v===0) return; const t=el(g,'text',{x:cbX-5,y:cy(v)+3,'font-size':'9','text-anchor':'end'},String(v));
      });
  el(g,'text',{x:cbX+8,y:544,'font-size':'9','text-anchor':'middle'},'E (mV)');
  el(g,'ellipse',{cx:cbX-12,cy:557,rx:11,ry:7,fill:'none',stroke:'#c020c0'});
  el(g,'text',{x:cbX-12,y:560,'font-size':'8','text-anchor':'middle'},topTxt);
  el(g,'ellipse',{cx:cbX-12,cy:766,rx:11,ry:7,fill:'none',stroke:'#20a0d0'});
  el(g,'text',{x:cbX-12,y:769,'font-size':'8','text-anchor':'middle'},botTxt);
  el(g,'ellipse',{cx:cbX-12,cy:cy(0),rx:11,ry:7,fill:'none',stroke:'#109040'});
  el(g,'text',{x:cbX-12,y:cy(0)+3,'font-size':'8','text-anchor':'middle'},'0');
  el(g,'rect',{x:X0-31,y:552,width:28,height:32,fill:'none',stroke:'#7030a0','stroke-width':1.5,'stroke-dasharray':'5,3'});
  const lt=el(g,'text',{x:X0-27,y:577,'font-size':'20',fill:'#7030a0'},'d'); el(lt,'tspan',{'font-size':'12',dy:'5'},labelTxt);
}
dmap('d1',674,881,d1Grid,d1Range,d1BarTicks,'1','0.68','-0.07');
dmap('d2',931,1142,d2Grid,d2Range,d2BarTicks,'2','0.092','-0.101');
</script>
</body></html>
